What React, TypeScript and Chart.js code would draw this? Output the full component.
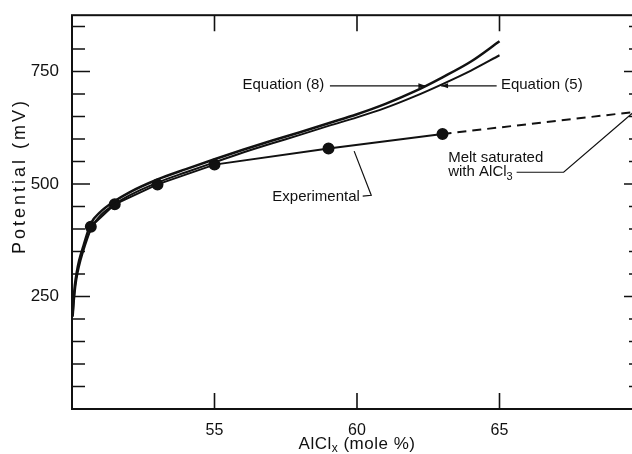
import { useEffect, useRef } from 'react';
import { Chart, registerables } from 'chart.js';

Chart.register(...registerables);

// ---- data ----
const eq8X = [50.02, 50.05, 50.1, 50.17, 50.25, 50.4, 50.66, 51, 51.5, 52, 53, 54, 55, 56, 57, 58, 59, 60, 61, 62, 63, 64, 65];
const eq8Y = [210, 240, 275, 305, 330, 362, 412, 438, 462, 481, 510, 533, 555, 576, 596, 615, 635, 655, 678, 705, 737, 772, 817];
const eq5X = [50.03, 50.07, 50.12, 50.2, 50.3, 50.45, 50.7, 51, 51.5, 52, 53, 54, 55, 56, 57, 58, 59, 60, 61, 62, 63, 64, 65];
const eq5Y = [205, 240, 272, 303, 330, 362, 405, 430, 455, 474, 503, 526, 548, 570, 590, 609, 629, 648, 669, 694, 722, 752, 786];
const expX = [50.66, 51.5, 53, 55, 59, 63];
const expY = [405, 455, 499, 543, 579, 611];
const satX = [63, 70];
const satY = [611, 662];

const xTickValues = [55, 60, 65];
const yTickValues = [250, 500, 750];
const yMinorValues = [50, 100, 150, 200, 300, 350, 400, 450, 550, 600, 650, 700, 800, 850];
const X_MIN = 50;
const X_MAX = 70;
const Y_MIN = 0;
const Y_MAX = 875;

const FONT = '"Liberation Sans", Arial, sans-serif';
const INK = '#111';

const zip = (xs: number[], ys: number[]) => xs.map((x, i) => ({ x, y: ys[i] }));

type Seg = { t: string; sub?: boolean };

function drawRich(ctx: CanvasRenderingContext2D, segs: Seg[], x: number, y: number, size: number, align: 'left' | 'center' | 'right', spacing = 0) {
  ctx.save();
  (ctx as any).letterSpacing = spacing + 'px';
  ctx.textBaseline = 'middle';
  ctx.textAlign = 'left';
  const widths = segs.map((s) => {
    ctx.font = `${s.sub ? Math.round(size * 0.7) : size}px ${FONT}`;
    return ctx.measureText(s.t).width;
  });
  const total = widths.reduce((a, b) => a + b, 0);
  let cx = align === 'left' ? x : align === 'center' ? x - total / 2 : x - total;
  segs.forEach((s, i) => {
    ctx.font = `${s.sub ? Math.round(size * 0.7) : size}px ${FONT}`;
    ctx.fillText(s.t, cx, s.sub ? y + size * 0.3 : y);
    cx += widths[i];
  });
  ctx.restore();
}

function arrow(ctx: CanvasRenderingContext2D, x1: number, y1: number, x2: number, y2: number) {
  ctx.beginPath();
  ctx.moveTo(x1, y1);
  ctx.lineTo(x2, y2);
  ctx.stroke();
  const a = Math.atan2(y2 - y1, x2 - x1);
  const L = 7, W = 2.5;
  ctx.beginPath();
  ctx.moveTo(x2, y2);
  ctx.lineTo(x2 - L * Math.cos(a) + W * Math.sin(a), y2 - L * Math.sin(a) - W * Math.cos(a));
  ctx.lineTo(x2 - L * Math.cos(a) - W * Math.sin(a), y2 - L * Math.sin(a) + W * Math.cos(a));
  ctx.closePath();
  ctx.fill();
}

const framePlugin = {
  id: 'frameAndNotes',
  afterDraw(chart: any) {
    const { ctx, chartArea } = chart;
    const { left, right, top, bottom } = chartArea;
    const xs = chart.scales.x;
    const ys = chart.scales.y;
    const X = (v: number) => xs.getPixelForValue(v);
    const Y = (v: number) => ys.getPixelForValue(v);
    ctx.save();
    ctx.strokeStyle = INK;
    ctx.fillStyle = INK;
    ctx.lineWidth = 2;
    ctx.strokeRect(left, top, right - left, bottom - top);

    // inward ticks
    ctx.lineWidth = 1.6;
    const hTick = (py: number, len: number) => {
      ctx.beginPath();
      ctx.moveTo(left, py); ctx.lineTo(left + len, py);
      ctx.moveTo(right, py); ctx.lineTo(right - len, py);
      ctx.stroke();
    };
    yTickValues.forEach((v) => hTick(Y(v), 18));
    yMinorValues.forEach((v) => hTick(Y(v), 13));
    xTickValues.forEach((v) => {
      const px = X(v);
      ctx.beginPath();
      ctx.moveTo(px, bottom); ctx.lineTo(px, bottom - 16);
      ctx.moveTo(px, top); ctx.lineTo(px, top + 16);
      ctx.stroke();
    });

    // axis titles
    drawRich(ctx, [{ t: 'AlCl' }, { t: 'x', sub: true }, { t: ' (mole %)' }], (left + right) / 2, 444, 17, 'center', 0.5);
    ctx.save();
    ctx.translate(20, 176);
    ctx.rotate(-Math.PI / 2);
    drawRich(ctx, [{ t: 'Potential (mV)' }], 0, 0, 18, 'center', 3);
    ctx.restore();

    // annotations
    ctx.lineWidth = 1.2;
    drawRich(ctx, [{ t: 'Equation (8)' }], X(58.85), Y(720), 15, 'right');
    arrow(ctx, X(59.05), Y(718), X(62.4), Y(718));
    drawRich(ctx, [{ t: 'Equation (5)' }], X(65.05), Y(720), 15, 'left');
    arrow(ctx, X(64.9), Y(718), X(62.95), Y(718));

    drawRich(ctx, [{ t: 'Experimental' }], X(60.1), Y(471), 15, 'right');
    ctx.beginPath();
    ctx.moveTo(X(60.2), Y(473));
    ctx.lineTo(X(60.5), Y(475));
    ctx.lineTo(X(59.9), Y(573));
    ctx.stroke();

    drawRich(ctx, [{ t: 'Melt saturated' }], X(63.2), Y(559), 15, 'left');
    drawRich(ctx, [{ t: 'with AlCl' }, { t: '3', sub: true }], X(63.2), Y(526), 15, 'left');
    ctx.beginPath();
    ctx.moveTo(X(65.6), Y(526));
    ctx.lineTo(X(67.25), Y(526));
    ctx.lineTo(X(69.7), Y(659.5));
    ctx.stroke();
    ctx.restore();
  },
};

export default function App() {
  const ref = useRef<HTMLCanvasElement | null>(null);
  useEffect(() => {
    if (!ref.current) return;
    const chart = new Chart(ref.current, {
      type: 'line',
      data: {
        datasets: [
          { label: 'Equation (8)', data: zip(eq8X, eq8Y), borderColor: INK, borderWidth: 2.5, pointRadius: 0, cubicInterpolationMode: 'monotone', fill: false },
          { label: 'Equation (5)', data: zip(eq5X, eq5Y), borderColor: INK, borderWidth: 2, pointRadius: 0, cubicInterpolationMode: 'monotone', fill: false },
          { label: 'Experimental', data: zip(expX, expY), borderColor: INK, borderWidth: 2, pointRadius: 5, pointBackgroundColor: INK, pointBorderColor: INK, tension: 0, fill: false },
          { label: 'Melt saturated with AlCl3', data: zip(satX, satY), borderColor: INK, borderWidth: 2, borderDash: [9, 6], pointRadius: 0, tension: 0, fill: false },
        ],
      } as any,
      options: {
        animation: false,
        responsive: false,
        devicePixelRatio: 1,
        layout: { padding: { top: 12, right: 18, bottom: 0, left: 0 } },
        plugins: { legend: { display: false }, tooltip: { enabled: false } },
        scales: {
          x: {
            type: 'linear',
            min: X_MIN,
            max: X_MAX,
            grid: { display: false },
            border: { display: false },
            afterBuildTicks: (s: any) => { s.ticks = xTickValues.map((v) => ({ value: v })); },
            afterFit: (s: any) => { s.height = 45; },
            ticks: { color: INK, font: { family: FONT, size: 16 }, padding: 4, maxRotation: 0 },
          },
          y: {
            type: 'linear',
            min: Y_MIN,
            max: Y_MAX,
            grid: { display: false },
            border: { display: false },
            afterBuildTicks: (s: any) => { s.ticks = yTickValues.map((v) => ({ value: v })); },
            afterFit: (s: any) => { s.width = 72; },
            ticks: { color: INK, font: { family: FONT, size: 17 }, padding: 5 },
          },
        },
      } as any,
      plugins: [framePlugin],
    });
    return () => chart.destroy();
  }, []);
  return (
    <div style={{ position: 'absolute', left: 0, top: 0, width: 632, height: 454, overflow: 'hidden', background: '#fff' }}>
      <canvas ref={ref} width={660} height={454} style={{ display: 'block' }} />
    </div>
  );
}
